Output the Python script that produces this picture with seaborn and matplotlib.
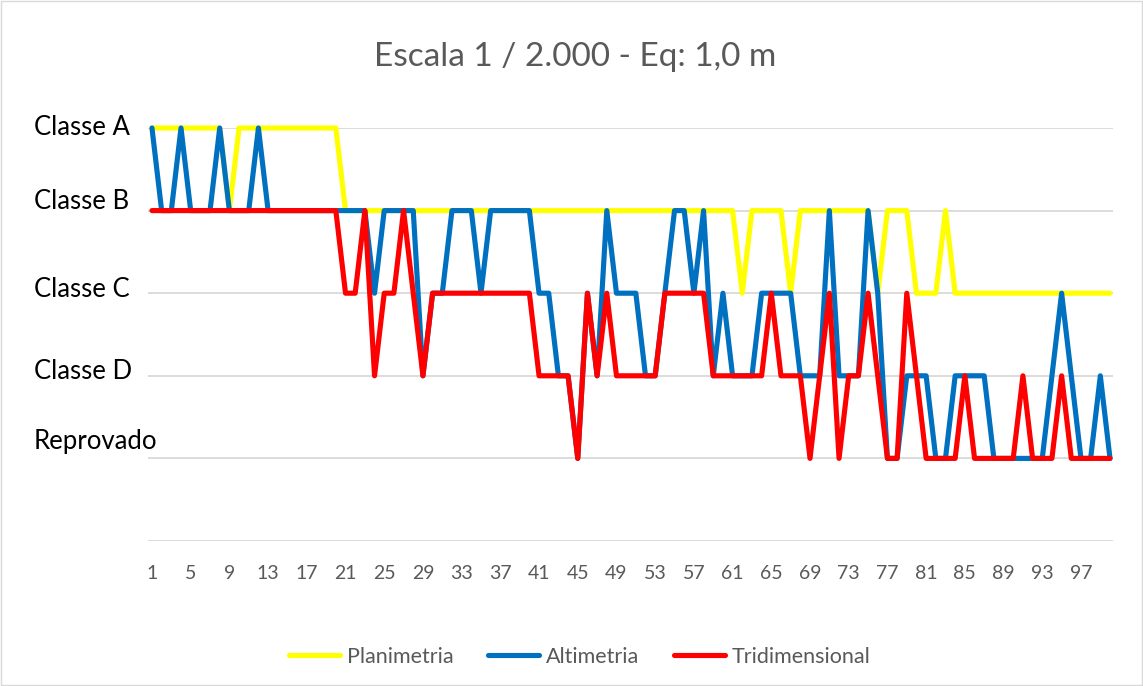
import numpy as np
import pandas as pd
import seaborn as sns
import matplotlib.pyplot as plt
from matplotlib.patches import Rectangle
from matplotlib.transforms import blended_transform_factory

sns.set_style('white')
plt.rcParams['font.family'] = ['Lato', 'DejaVu Sans']

# class levels: 5 = Classe A ... 1 = Reprovado
niveis = [5, 4, 3, 2, 1]
nomes_niveis = ['Classe A', 'Classe B', 'Classe C', 'Classe D', 'Reprovado']

pontos = list(range(1, 101))

planimetria = [5, 5, 5, 5, 5, 5, 5, 5, 4, 5,
               5, 5, 5, 5, 5, 5, 5, 5, 5, 5,
               4, 4, 4, 4, 4, 4, 4, 4, 4, 4,
               4, 4, 4, 4, 4, 4, 4, 4, 4, 4,
               4, 4, 4, 4, 4, 4, 4, 4, 4, 4,
               4, 4, 4, 4, 4, 4, 4, 4, 4, 4,
               4, 3, 4, 4, 4, 4, 3, 4, 4, 4,
               4, 4, 4, 4, 4, 3, 4, 4, 4, 3,
               3, 3, 4, 3, 3, 3, 3, 3, 3, 3,
               3, 3, 3, 3, 3, 3, 3, 3, 3, 3]

altimetria = [5, 4, 4, 5, 4, 4, 4, 5, 4, 4,
              4, 5, 4, 4, 4, 4, 4, 4, 4, 4,
              4, 4, 4, 3, 4, 4, 4, 4, 2, 3,
              3, 4, 4, 4, 3, 4, 4, 4, 4, 4,
              3, 3, 2, 2, 1, 3, 2, 4, 3, 3,
              3, 2, 2, 3, 4, 4, 3, 4, 2, 3,
              2, 2, 2, 3, 3, 3, 3, 2, 2, 2,
              4, 2, 2, 2, 4, 3, 1, 1, 2, 2,
              2, 1, 1, 2, 2, 2, 2, 1, 1, 1,
              1, 1, 1, 2, 3, 2, 1, 1, 2, 1]

tridimensional = [4, 4, 4, 4, 4, 4, 4, 4, 4, 4,
                  4, 4, 4, 4, 4, 4, 4, 4, 4, 4,
                  3, 3, 4, 2, 3, 3, 4, 3, 2, 3,
                  3, 3, 3, 3, 3, 3, 3, 3, 3, 3,
                  2, 2, 2, 2, 1, 3, 2, 3, 2, 2,
                  2, 2, 2, 3, 3, 3, 3, 3, 2, 2,
                  2, 2, 2, 2, 3, 2, 2, 2, 1, 2,
                  3, 1, 2, 2, 3, 2, 1, 1, 3, 2,
                  1, 1, 1, 1, 2, 1, 1, 1, 1, 1,
                  2, 1, 1, 1, 2, 1, 1, 1, 1, 1]

series = ['Planimetria', 'Altimetria', 'Tridimensional']
cores = {'Planimetria': '#FFFF00', 'Altimetria': '#0070C0', 'Tridimensional': '#FF0000'}

df = pd.concat([
    pd.DataFrame({'ponto': pontos, 'classe': vals, 'serie': nome})
    for nome, vals in zip(series, [planimetria, altimetria, tridimensional])
])

W, H = 1143, 686
fig = plt.figure(figsize=(W / 100, H / 100), dpi=100)
ax = fig.add_axes([148 / W, 1 - 541 / H, (1113 - 148) / W, (541 - 128) / H])

sns.lineplot(data=df, x='ponto', y='classe', hue='serie', hue_order=series,
             palette=cores, estimator=None, sort=False, linewidth=3.7, ax=ax)

for l in ax.lines:
    l.set_clip_on(False)
    l.set_solid_joinstyle('round')
    l.set_solid_capstyle('round')

ax.set_xlim(0.59, 100.31)
ax.set_ylim(0, 5)
ax.set_yticks(range(0, 6))
ax.set_yticklabels([])
ax.yaxis.grid(True, color='#d9d9d9', linewidth=1.3)
ax.set_axisbelow(True)
for s in ax.spines.values():
    s.set_visible(False)

ax.set_xticks(pontos[::4])
ax.set_xticklabels([str(p) for p in pontos[::4]])
ax.tick_params(axis='x', length=0, pad=17, labelsize=14, labelcolor='#595959')
ax.tick_params(axis='y', length=0)
ax.set_xlabel(None)
ax.set_ylabel(None)

# class names on the left, as in the original text boxes
trans = blended_transform_factory(fig.transFigure, ax.transData)
desloc = [0.0, 0.11, 0.05, 0.05, 0.2]
for nv, nome, d in zip(niveis, nomes_niveis, desloc):
    ax.text(34 / W, nv + d, nome, transform=trans, ha='left', va='center',
            fontsize=18.5, color='black')

fig.text(0.503, 1 - 57 / H, 'Escala 1 / 2.000 - Eq: 1,0 m', ha='center', va='center',
         fontsize=24, color='#595959')

handles, labels = ax.get_legend_handles_labels()
ax.get_legend().remove()
lgd = fig.legend(handles, labels, loc='center', bbox_to_anchor=(0.507, 1 - 657 / H), ncol=3,
                 frameon=False, fontsize=15.5, handlelength=2.4, handletextpad=0.3,
                 columnspacing=1.6, labelcolor='#595959')
for h in lgd.get_lines():
    h.set_linewidth(3.7)

fig.patches.append(Rectangle((0.001, 0.001), 0.998, 0.998, transform=fig.transFigure,
                             fill=False, edgecolor='#d9d9d9', linewidth=1))

fig.savefig('out.png', dpi=100)
